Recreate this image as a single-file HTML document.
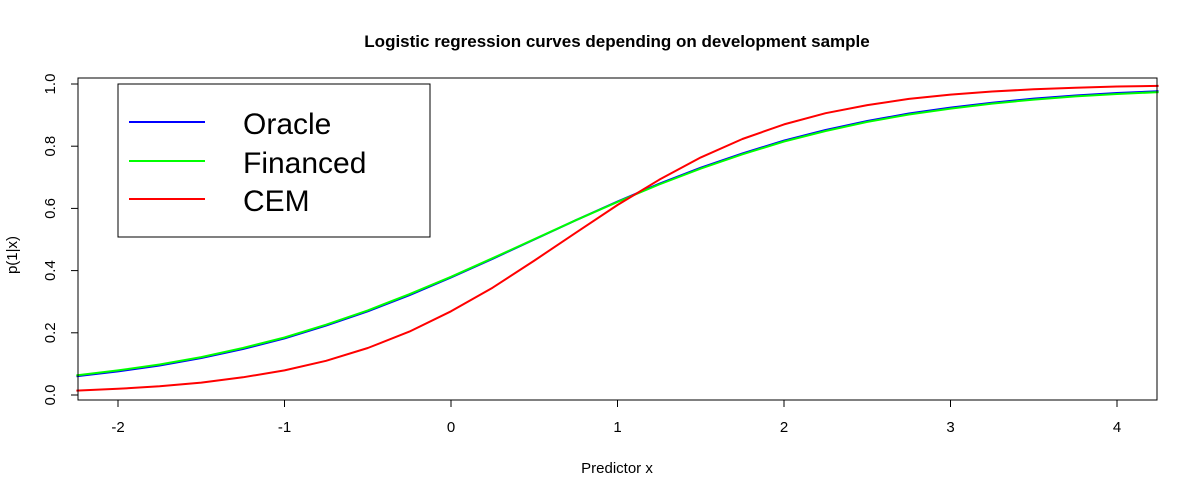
<!DOCTYPE html>
<html><head><meta charset="utf-8"><style>
body{margin:0;background:#fff}
svg{display:block;font-family:"Liberation Sans",Arial,sans-serif}
</style></head><body>
<svg id="chart" width="1198" height="498" viewBox="0 0 1198 498">
<text x="617" y="47" text-anchor="middle" font-size="17" font-weight="bold">Logistic regression curves depending on development sample</text>
<text x="617" y="473" text-anchor="middle" font-size="15">Predictor x</text>
<text x="17" y="255" text-anchor="middle" font-size="15" transform="rotate(-90 17 255)">p(1|x)</text>
<g id="ticks"></g>
<g id="series"></g>
<rect x="78" y="78" width="1079" height="322" fill="none" stroke="#000" stroke-width="1"/>
<g>
<rect x="118" y="84" width="312" height="153" fill="#fff" stroke="#000"/>
<line x1="129" y1="122" x2="205" y2="122" stroke="#0000ff" stroke-width="2"/>
<line x1="129" y1="161" x2="205" y2="161" stroke="#00ff00" stroke-width="2"/>
<line x1="129" y1="199" x2="205" y2="199" stroke="#ff0000" stroke-width="2"/>
<text x="243" y="134" font-size="30">Oracle</text>
<text x="243" y="173" font-size="30">Financed</text>
<text x="243" y="211" font-size="30">CEM</text>
</g>
</svg>
<script>
const xs = [-2.25,-2,-1.75,-1.5,-1.25,-1,-0.75,-0.5,-0.25,0,0.25,0.5,0.75,1,1.25,1.5,1.75,2,2.25,2.5,2.75,3,3.25,3.5,3.75,4,4.25];
const oracle = [0.060,0.076,0.095,0.119,0.148,0.182,0.223,0.269,0.321,0.378,0.438,0.5,0.562,0.622,0.679,0.731,0.777,0.818,0.852,0.881,0.905,0.924,0.940,0.953,0.963,0.971,0.977];
const financed = [0.063,0.079,0.098,0.122,0.151,0.185,0.226,0.272,0.324,0.380,0.440,0.501,0.562,0.621,0.677,0.728,0.774,0.815,0.849,0.878,0.902,0.921,0.937,0.950,0.960,0.968,0.974];
const cem = [0.014,0.020,0.028,0.040,0.057,0.079,0.110,0.151,0.204,0.269,0.345,0.432,0.522,0.611,0.692,0.764,0.823,0.870,0.906,0.932,0.952,0.966,0.976,0.983,0.988,0.992,0.994];
const xTicks = [-2,-1,0,1,2,3,4];
const yTicks = [0,0.2,0.4,0.6,0.8,1.0];
const yTickLabels = ["0.0","0.2","0.4","0.6","0.8","1.0"];

const NS = "http://www.w3.org/2000/svg";
const X = v => 451 + v*166.5;
const Y = v => 395 - v*311;
const tg = document.getElementById('ticks');
function mk(tag, attrs, parent){const e=document.createElementNS(NS,tag);for(const k in attrs)e.setAttribute(k,attrs[k]);parent.appendChild(e);return e;}
xTicks.forEach(t=>{
  const l=mk('line',{x1:X(t),x2:X(t),y1:400,y2:407,stroke:'#000'},tg);
  
  
  const tx=mk('text',{x:X(t),y:432,'text-anchor':'middle','font-size':15},tg);
  tx.textContent=String(t);
  
  
});
yTicks.forEach((t,i)=>{
  const l=mk('line',{x1:71,x2:78,y1:Y(t),y2:Y(t),stroke:'#000'},tg);
  
  
  const tx=mk('text',{x:55,y:Y(t),'text-anchor':'middle','font-size':15,transform:`rotate(-90 55 ${Y(t)})`},tg);
  tx.textContent=yTickLabels[i];
  
  
});
const sg=document.getElementById('series');
[[oracle,'#0000ff','oracle-curve'],[financed,'#00ff00','financed-curve'],[cem,'#ff0000','cem-curve']].forEach(([vals,col,name])=>{
  const d=vals.map((v,i)=>(i?'L':'M')+X(xs[i]).toFixed(1)+','+Y(v).toFixed(1)).join(' ');
  const p=mk('path',{d:d,fill:'none',stroke:col,'stroke-width':2,'stroke-linejoin':'round'},sg);
  
  
});
</script>
</body></html>
